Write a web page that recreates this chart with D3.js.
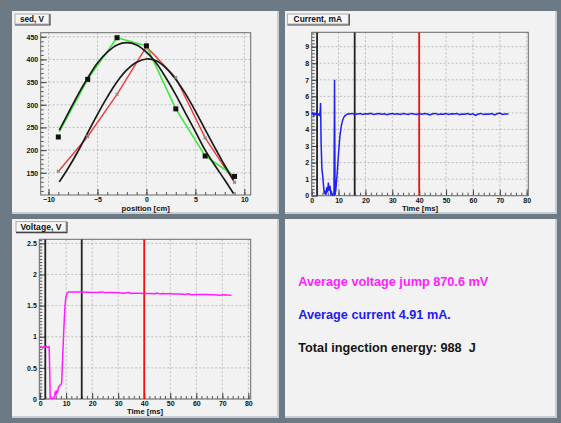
<!DOCTYPE html>
<html>
<head>
<meta charset="utf-8">
<script src="https://cdn.jsdelivr.net/npm/d3@7"></script>
<style>
  body { margin: 0; background: #6c7a86; }
  svg { display: block; }
  text { font-family: "Liberation Sans", Arial, Helvetica, sans-serif; font-weight: bold; }
</style>
</head>
<body>
<div id="chart"></div>
<script>
// ---- data: position scan
var scanPos = [-9, -6, -3, 0, 3, 6, 9];
var scanGreen = [229, 356, 448, 430, 291, 187, 142];
var scanRed = [153, 230, 323, 428, 360, 227, 129];
var greenLine = [[-8.9, 240], [-6, 356], [-3, 448], [0, 430], [3, 291], [6, 187], [8.9, 144]];
var fitX = [-8.9, -8, -7, -6, -5, -4, -3, -2, -1, 0, 1, 2, 3, 4, 5, 6, 7, 8, 8.9];
var fitGreen = [244, 281, 322, 359, 392, 416, 432, 437, 432, 416, 392, 359, 322, 281, 241, 200, 166, 134, 104];
var fitRed = [130, 160, 197, 238, 279, 317, 351, 377, 394, 401, 397, 381, 356, 324, 286, 245, 205, 166, 134];

// ---- data: time traces
var markTimes = [2, 16, 40];
var markColors = ["#222", "#222", "#f01010"];

var current = [
  [0, 4.92], [0.4, 5.0], [0.8, 4.85], [1.2, 4.98], [1.6, 4.9], [2.0, 5.02], [2.4, 4.88], [2.8, 4.95],
  [3.1, 4.8], [3.3, 5.6], [3.5, 3.2], [3.8, 1.6], [4.1, 1.2], [4.4, 0.6], [4.7, 0.1], [5.0, 0.3],
  [5.3, 0.05], [5.6, 0.5], [5.9, 0.2], [6.2, 0.8], [6.5, 0.3], [6.8, 0.6], [7.1, 0.1], [7.4, 0.2],
  [7.7, 0.02], [8.0, 0.05], [8.3, 0.02], [8.5, 7.0], [8.7, 0.05], [9.0, 0.4], [9.5, 1.4], [10.0, 2.6],
  [10.5, 3.6], [11.0, 4.2], [11.5, 4.55], [12.0, 4.75], [12.5, 4.85], [13.0, 4.9], [13.5, 4.95],
  [14, 4.93], [15, 4.97], [16, 4.9], [17, 4.94], [18, 4.96], [19, 4.91], [20, 4.95], [21, 4.93],
  [22, 4.98], [23, 4.9], [24, 4.94], [25, 4.96], [26, 4.92], [27, 4.95], [28, 4.89], [29, 4.94],
  [30, 4.97], [31, 4.92], [32, 4.95], [33, 4.9], [34, 4.96], [35, 4.93], [36, 4.91], [37, 4.97],
  [38, 4.94], [39, 4.9], [40, 4.95], [41, 4.92], [42, 4.96], [43, 4.93], [44, 4.88], [45, 4.95],
  [46, 4.97], [47, 4.91], [48, 4.94], [49, 4.92], [50, 4.96], [51, 4.9], [52, 4.95], [53, 4.93],
  [54, 4.97], [55, 4.89], [56, 4.94], [57, 4.92], [58, 4.96], [59, 4.91], [60, 4.95], [61, 4.85],
  [62, 4.93], [63, 4.97], [64, 4.9], [65, 4.94], [66, 4.92], [67, 4.96], [68, 4.88], [69, 4.95],
  [70, 4.99], [71, 4.91], [72, 4.94], [73.2, 4.93]
];

var voltage = [
  [0, 0.83], [0.5, 0.84], [1, 0.82], [1.5, 0.84], [2, 0.83], [2.5, 0.84], [3, 0.83], [3.5, 0.84],
  [3.7, 0.45], [3.9, 0], [4.3, 0], [4.8, 0.01], [5.2, 0], [5.5, 0.04], [5.8, 0.1], [6.1, 0.06],
  [6.4, 0.14], [6.7, 0.1], [7.0, 0.18], [7.3, 0.2], [7.6, 0.22], [8.0, 0.23], [8.3, 0.26], [8.7, 0.7],
  [9.1, 1.1], [9.5, 1.45], [9.9, 1.63], [10.4, 1.7], [11, 1.72], [12, 1.72], [14, 1.72], [16, 1.72],
  [18, 1.715], [20, 1.71], [22, 1.712], [24, 1.72], [25, 1.705], [26, 1.71], [28, 1.71], [30, 1.705],
  [32, 1.70], [34, 1.71], [35, 1.695], [36, 1.70], [38, 1.70], [40, 1.695], [42, 1.695], [44, 1.69],
  [45, 1.70], [46, 1.685], [47, 1.695], [48, 1.69], [50, 1.69], [52, 1.688], [54, 1.685], [56, 1.68],
  [57, 1.69], [58, 1.675], [60, 1.68], [62, 1.68], [64, 1.678], [66, 1.675], [68, 1.672], [69, 1.665],
  [70, 1.675], [72, 1.67], [73.5, 1.668]
];

var summary = [
  {text: "Average voltage jump 870.6 mV", color: "#ff1cff"},
  {text: "Average current 4.91 mA.", color: "#1c1cf0"},
  {text: "Total ingection energy: 988  J", color: "#151515"}
];

// ---- canvas
var W = 561, H = 423;
var svg = d3.select("#chart").append("svg").attr("width", W).attr("height", H);
svg.append("rect").attr("width", W).attr("height", H).attr("fill", "#6c7a86");

// panels
var panels = [
  {x: 12, y: 11, w: 266, h: 202},
  {x: 285, y: 11, w: 271, h: 202},
  {x: 12, y: 219, w: 266, h: 198},
  {x: 285, y: 219, w: 271, h: 198}
];
panels.forEach(function(p) {
  svg.append("rect").attr("x", p.x).attr("y", p.y).attr("width", p.w).attr("height", p.h)
    .attr("fill", "#f2f2f2");
  svg.append("polyline")
    .attr("points", (p.x + p.w) + "," + p.y + " " + (p.x + p.w) + "," + (p.y + p.h) + " " + p.x + "," + (p.y + p.h))
    .attr("fill", "none").attr("stroke", "#c9cdd2").attr("stroke-width", 2);
});

function titleBox(x, y, w, h, label, size) {
  var g = svg.append("g");
  g.append("rect").attr("x", x).attr("y", y).attr("width", w).attr("height", h)
    .attr("fill", "#f7f7f7").attr("stroke", "#9a9a9a").attr("stroke-width", 0.8);
  g.append("polyline")
    .attr("points", (x + w + 1) + "," + y + " " + (x + w + 1) + "," + (y + h + 1) + " " + x + "," + (y + h + 1))
    .attr("fill", "none").attr("stroke", "#444").attr("stroke-width", 1.2);
  g.append("text").attr("x", x + w / 2).attr("y", y + h / 2 + size * 0.36)
    .attr("text-anchor", "middle").attr("font-size", size + "px").attr("fill", "#111").text(label);
}

function makePlot(f, xDom, yDom, xMajor, xMinor, yMajor, yMinor, xFmt, yFmt, xTitle, titleY) {
  var x = d3.scaleLinear().domain(xDom).range([f.x0, f.x1]);
  var y = d3.scaleLinear().domain(yDom).range([f.y1, f.y0]);
  var g = svg.append("g");

  // grid
  g.append("g").selectAll("line").data(xMajor).join("line")
    .attr("x1", function(d) { return x(d); }).attr("x2", function(d) { return x(d); })
    .attr("y1", f.y0).attr("y2", f.y1)
    .attr("stroke", "#b0b0b0").attr("stroke-width", 0.8).attr("stroke-dasharray", "2,2");
  g.append("g").selectAll("line").data(yMajor).join("line")
    .attr("y1", function(d) { return y(d); }).attr("y2", function(d) { return y(d); })
    .attr("x1", f.x0).attr("x2", f.x1)
    .attr("stroke", "#b0b0b0").attr("stroke-width", 0.8).attr("stroke-dasharray", "2,2");

  // minor ticks
  g.append("g").attr("transform", "translate(0," + f.y1 + ")")
    .call(d3.axisBottom(x).tickValues(xMinor).tickSize(-3).tickFormat(""))
    .call(function(a) { a.select(".domain").remove(); a.selectAll("line").attr("stroke", "#555"); });
  g.append("g").attr("transform", "translate(" + f.x0 + ",0)")
    .call(d3.axisLeft(y).tickValues(yMinor).tickSize(-3).tickFormat(""))
    .call(function(a) { a.select(".domain").remove(); a.selectAll("line").attr("stroke", "#555"); });

  // major ticks + labels
  g.append("g").attr("transform", "translate(0," + f.y1 + ")")
    .call(d3.axisBottom(x).tickValues(xMajor).tickSize(-6).tickPadding(2.5).tickFormat(xFmt))
    .call(function(a) {
      a.select(".domain").remove();
      a.selectAll("line").attr("stroke", "#444");
      a.selectAll("text").attr("font-size", "7px").attr("fill", "#111")
        .attr("font-family", "'Liberation Sans', Arial, sans-serif").attr("font-weight", "bold");
    });
  g.append("g").attr("transform", "translate(" + f.x0 + ",0)")
    .call(d3.axisLeft(y).tickValues(yMajor).tickSize(-6).tickPadding(2.5).tickFormat(yFmt))
    .call(function(a) {
      a.select(".domain").remove();
      a.selectAll("line").attr("stroke", "#444");
      a.selectAll("text").attr("font-size", "7px").attr("fill", "#111")
        .attr("font-family", "'Liberation Sans', Arial, sans-serif").attr("font-weight", "bold");
    });

  // frame
  g.append("rect").attr("x", f.x0).attr("y", f.y0).attr("width", f.x1 - f.x0).attr("height", f.y1 - f.y0)
    .attr("fill", "none").attr("stroke", "#6a6a6a").attr("stroke-width", 1);

  // axis title
  g.append("text").attr("x", (f.x0 + f.x1) / 2).attr("y", titleY).attr("text-anchor", "middle")
    .attr("font-size", "7.7px").attr("fill", "#111").text(xTitle);

  var clipId = "clip" + Math.round(f.x0) + "_" + Math.round(f.y0);
  svg.append("clipPath").attr("id", clipId).append("rect")
    .attr("x", f.x0).attr("y", f.y0).attr("width", f.x1 - f.x0).attr("height", f.y1 - f.y0);
  var data = svg.append("g").attr("clip-path", "url(#" + clipId + ")");
  return {x: x, y: y, g: data};
}

// ---------------- panel 1: scan
var p1 = makePlot({x0: 40.7, x1: 250.7, y0: 32.7, y1: 195},
  [-10.8, 10.65], [101, 459],
  [-10, -5, 0, 5, 10], d3.range(-10, 10.5, 1),
  [150, 200, 250, 300, 350, 400, 450], d3.range(110, 459, 10),
  d3.format("d"), d3.format("d"), "position [cm]", 210.6);

var line1 = d3.line().x(function(d) { return p1.x(d[0]); }).y(function(d) { return p1.y(d[1]); });
var smooth1 = d3.line().curve(d3.curveCatmullRom)
  .x(function(d) { return p1.x(d[0]); }).y(function(d) { return p1.y(d[1]); });

p1.g.append("path").attr("d", line1(scanPos.map(function(v, i) { return [v, scanRed[i]]; })))
  .attr("fill", "none").attr("stroke", "#f03a3a").attr("stroke-width", 1.4);
p1.g.append("path").attr("d", line1(greenLine))
  .attr("fill", "none").attr("stroke", "#3ee83e").attr("stroke-width", 1.6);
p1.g.append("path").attr("d", smooth1(fitX.map(function(v, i) { return [v, fitGreen[i]]; })))
  .attr("fill", "none").attr("stroke", "#1a1a1a").attr("stroke-width", 1.7);
p1.g.append("path").attr("d", smooth1(fitX.map(function(v, i) { return [v, fitRed[i]]; })))
  .attr("fill", "none").attr("stroke", "#1a1a1a").attr("stroke-width", 1.7);

// red series markers (small stars)
var star = d3.symbol().type(d3.symbolCross).size(9);
p1.g.append("g").selectAll("path").data(scanPos).join("path")
  .attr("transform", function(d, i) { return "translate(" + p1.x(d) + "," + p1.y(scanRed[i]) + ") rotate(45)"; })
  .attr("d", star).attr("fill", "#8a8a8a");
// green series markers (squares)
p1.g.append("g").selectAll("rect").data(scanPos).join("rect")
  .attr("x", function(d) { return p1.x(d) - 2.5; })
  .attr("y", function(d, i) { return p1.y(scanGreen[i]) - 2.5; })
  .attr("width", 5).attr("height", 5).attr("fill", "#111");

// ---------------- panel 2: current
var p2 = makePlot({x0: 311.7, x1: 528.3, y0: 32.3, y1: 195.7},
  [0, 80.6], [0, 9.87],
  d3.range(0, 81, 10), d3.range(0, 80.6, 2),
  d3.range(0, 10, 1), d3.range(0, 9.87, 0.2),
  d3.format("d"), d3.format("d"), "Time [ms]", 210.7);

markTimes.forEach(function(t, i) {
  p2.g.append("line").attr("x1", p2.x(t)).attr("x2", p2.x(t)).attr("y1", p2.y(0)).attr("y2", p2.y(9.87))
    .attr("stroke", markColors[i]).attr("stroke-width", 1.8);
});
p2.g.append("path")
  .attr("d", d3.line().x(function(d) { return p2.x(d[0]); }).y(function(d) { return p2.y(d[1]); })(current))
  .attr("fill", "none").attr("stroke", "#2020f5").attr("stroke-width", 1.5);

// ---------------- panel 3: voltage
var p3 = makePlot({x0: 39.3, x1: 250.7, y0: 239.3, y1: 399},
  [-0.3, 80.9], [0, 2.565],
  d3.range(0, 81, 10), d3.range(0, 80.9, 2),
  [0, 0.5, 1, 1.5, 2, 2.5], d3.range(0, 2.565, 0.05),
  d3.format("d"), function(d) { return String(d); }, "Time [ms]", 414);

markTimes.forEach(function(t, i) {
  p3.g.append("line").attr("x1", p3.x(t)).attr("x2", p3.x(t)).attr("y1", p3.y(0)).attr("y2", p3.y(2.565))
    .attr("stroke", markColors[i]).attr("stroke-width", 1.8);
});
p3.g.append("path")
  .attr("d", d3.line().x(function(d) { return p3.x(d[0]); }).y(function(d) { return p3.y(d[1]); })(voltage))
  .attr("fill", "none").attr("stroke", "#ff1cff").attr("stroke-width", 1.5);

// title boxes
titleBox(15, 14, 34, 10, "sed, V", 8.2);
titleBox(287.3, 14, 61, 10, "Current, mA", 8.4);
titleBox(16, 221.7, 50, 10, "Voltage, V", 8.6);

// ---------------- panel 4: summary text
var textY = d3.scalePoint().domain(d3.range(summary.length)).range([286, 352.3]);
svg.append("g").selectAll("text").data(summary).join("text")
  .attr("x", 298.3)
  .attr("y", function(d, i) { return textY(i); })
  .attr("font-size", "12.7px")
  .attr("fill", function(d) { return d.color; })
  .style("white-space", "pre")
  .text(function(d) { return d.text; });
</script>
</body>
</html>
